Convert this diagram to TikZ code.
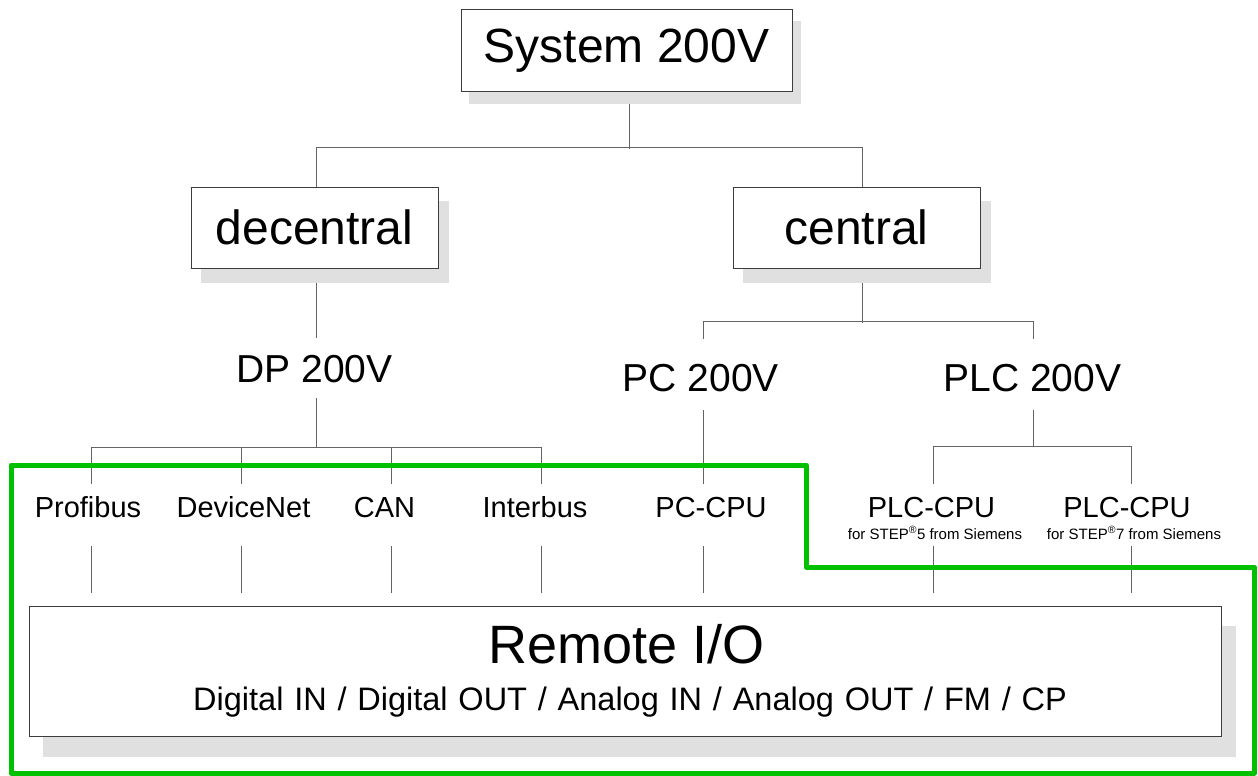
\documentclass[tikz,border=0pt]{standalone}
\usepackage{fontspec}
\setmainfont{Liberation Sans}
\pgfdeclarelayer{bg}
\pgfsetlayers{bg,main}
\definecolor{shadowgray}{RGB}{224,224,224}
\definecolor{linegray}{RGB}{100,100,100}
\definecolor{boxgray}{RGB}{60,60,60}
\definecolor{framegreen}{RGB}{0,192,0}
\begin{document}
\begin{tikzpicture}[x=1pt,y=-1pt,
  box/.style={draw=boxgray, line width=1pt, fill=white, inner sep=0pt},
  conn/.style={draw=linegray, line width=1pt},
  big/.style={font=\fontsize{48}{56}\selectfont},
  mid/.style={font=\fontsize{39}{46}\selectfont},
  lbl/.style={inner sep=0pt, anchor=base, font=\fontsize{29}{34}\selectfont, text height=33pt, text depth=29pt},
  note/.style={inner sep=0pt, font=\fontsize{15}{18}\selectfont},
  frame/.style={draw=framegreen, line width=5pt, line join=round},
  shade/.style={fill=shadowgray}
]
\useasboundingbox (0,0) rectangle (1258,776);

% boxes
\node[box, big, minimum width=331pt, minimum height=81pt] (sys) at (626.5,50.5) {System 200V};
\node[box, big, minimum width=247pt, minimum height=81pt] (dec) at (314.5,227.5) {decentral};
\node[box, big, minimum width=247pt, minimum height=81pt] (cen) at (856.5,227.5) {central};
\node[box, minimum width=1192pt, minimum height=130pt] (rem) at (625,671) {};
\node[inner sep=0pt, anchor=base, font=\fontsize{54}{60}\selectfont] (remtitle) at (627,663) {Remote I/O};
\node[inner sep=0pt, anchor=base, font=\fontsize{32.5}{38}\selectfont] (remsub) at (630,710)
  {\spaceskip=10.8pt\relax Digital IN / Digital OUT / Analog IN / Analog OUT / FM / CP};

% middle labels
\node[mid, inner sep=0pt, anchor=base, text height=44pt, text depth=16pt] (dp) at (314.5,382) {DP 200V};
\node[mid, inner sep=0pt, anchor=base, text height=52pt, text depth=19pt] (pc) at (701,391) {PC 200V};
\node[mid, inner sep=0pt, anchor=base, text height=52pt, text depth=19pt] (plc) at (1032.5,391) {PLC 200V};

% bus labels
\node[lbl] (prof) at (88,517) {Profibus};
\node[lbl] (devnet) at (243.5,517) {DeviceNet};
\node[lbl] (can) at (384.5,517) {CAN};
\node[lbl] (inter) at (535,517) {Interbus};
\node[lbl] (pccpu) at (711,517) {PC-CPU};
\node[lbl] (plc5) at (931.5,517) {PLC-CPU};
\node[lbl] (plc7) at (1127,517) {PLC-CPU};
\node[note] (plc5note) at (935,533) {for STEP\textsuperscript{®}5 from Siemens};
\node[note] (plc7note) at (1134,533) {for STEP\textsuperscript{®}7 from Siemens};

\begin{pgfonlayer}{bg}
  % connectors
  \draw[conn] ([xshift=2.5pt]sys.south) -- ++(0,57);
  \draw[conn] ([xshift=1.5pt]dec.north) -- ++(0,-39) -| ([xshift=5.5pt]cen.north);
  \draw[conn] ([xshift=1.5pt]dec.south) -- ([xshift=1.5pt]dp.north);
  \draw[conn] ([xshift=1.5pt]dp.south) -- ++(0,50);
  \draw[conn] ([xshift=3pt]prof.north) -- ++(0,-36) -| ([xshift=6pt]inter.north);
  \draw[conn] ([xshift=-2.5pt]devnet.north) -- ++(0,-36);
  \draw[conn] ([xshift=6.5pt]can.north) -- ++(0,-36);
  \draw[conn] ([xshift=5.5pt]cen.south) -- ++(0,54);
  \draw[conn] ([xshift=2pt]pc.north) -- ++(0,-17) -| ([xshift=0.5pt]plc.north);
  \draw[conn] ([xshift=2pt]pc.south) -- ([xshift=2pt]pc.south |- pccpu.north);
  \draw[conn] ([xshift=0.5pt]plc.south) -- ++(0,37);
  \draw[conn] ([xshift=1.5pt]plc5.north) -- ++(0,-37) -| ([xshift=4pt]plc7.north);
  \foreach \n/\dx in {prof/3,devnet/-2.5,can/6.5,inter/6,pccpu/-8,plc5/1.5,plc7/4}
    \draw[conn, shorten >=13pt] ([xshift=\dx pt]\n.south) -- ([xshift=\dx pt]\n.south |- rem.north);
  % shadows
  \fill[shade] ([xshift=8pt,yshift=-12pt]sys.south west) rectangle ([xshift=8pt,yshift=-12pt]sys.north east);
  \fill[shade] ([xshift=10pt,yshift=-14pt]dec.south west) rectangle ([xshift=10pt,yshift=-14pt]dec.north east);
  \fill[shade] ([xshift=10pt,yshift=-14pt]cen.south west) rectangle ([xshift=10pt,yshift=-14pt]cen.north east);
  \fill[shade] ([xshift=14pt,yshift=-20pt]rem.south west) rectangle ([xshift=14pt,yshift=-20pt]rem.north east);
\end{pgfonlayer}

% green frame
\draw[frame] (11,465) -- (806,465) -- (806,567) -- (1254,567) -- (1254,773) -- (11,773) -- cycle;
\end{tikzpicture}
\end{document}
